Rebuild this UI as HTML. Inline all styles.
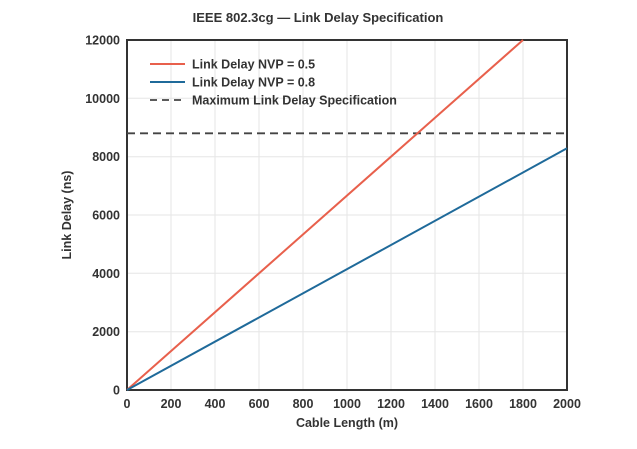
<!DOCTYPE html>
<html><head><meta charset="utf-8"><style>
body{margin:0;background:#fff;width:637px;height:444px;overflow:hidden}
text{font-family:"Liberation Sans",sans-serif;font-weight:bold;fill:#333}
</style></head><body>
<svg width="637" height="444" xmlns="http://www.w3.org/2000/svg">
<g stroke="#e6e6e6" stroke-width="1">
<line x1="171" y1="40" x2="171" y2="390"/><line x1="215" y1="40" x2="215" y2="390"/>
<line x1="259" y1="40" x2="259" y2="390"/><line x1="303" y1="40" x2="303" y2="390"/>
<line x1="347" y1="40" x2="347" y2="390"/><line x1="391" y1="40" x2="391" y2="390"/>
<line x1="435" y1="40" x2="435" y2="390"/><line x1="479" y1="40" x2="479" y2="390"/>
<line x1="523" y1="40" x2="523" y2="390"/>
<line x1="127" y1="331.7" x2="567" y2="331.7"/><line x1="127" y1="273.3" x2="567" y2="273.3"/>
<line x1="127" y1="215" x2="567" y2="215"/><line x1="127" y1="156.7" x2="567" y2="156.7"/>
<line x1="127" y1="98.3" x2="567" y2="98.3"/>
</g>
<rect x="127" y="40" width="440" height="350" fill="none" stroke="#333" stroke-width="2"/>
<line x1="127" y1="133.3" x2="567" y2="133.3" stroke="#444" stroke-width="1.8" stroke-dasharray="8,5"/>
<line x1="127" y1="390" x2="523" y2="40" stroke="#e8604c" stroke-width="2"/>
<line x1="127" y1="390" x2="567" y2="148.3" stroke="#1f6a9a" stroke-width="2"/>
<line x1="150" y1="64" x2="185" y2="64" stroke="#e8604c" stroke-width="2"/>
<line x1="150" y1="82" x2="185" y2="82" stroke="#1f6a9a" stroke-width="2"/>
<line x1="150" y1="100" x2="185" y2="100" stroke="#444" stroke-width="1.8" stroke-dasharray="7,5"/>
<g font-size="12.5">
<text x="192" y="68.5">Link Delay NVP = 0.5</text>
<text x="192" y="86.5">Link Delay NVP = 0.8</text>
<text x="192" y="104.5">Maximum Link Delay Specification</text>
</g>
<text x="318" y="22" font-size="13" text-anchor="middle">IEEE 802.3cg — Link Delay Specification</text>
<g font-size="12.5" text-anchor="end">
<text x="120" y="44.5">12000</text><text x="120" y="102.8">10000</text>
<text x="120" y="161.2">8000</text><text x="120" y="219.5">6000</text>
<text x="120" y="277.8">4000</text><text x="120" y="336.2">2000</text>
<text x="120" y="394.5">0</text>
</g>
<g font-size="12.5" text-anchor="middle">
<text x="127" y="408">0</text><text x="171" y="408">200</text><text x="215" y="408">400</text>
<text x="259" y="408">600</text><text x="303" y="408">800</text><text x="347" y="408">1000</text>
<text x="391" y="408">1200</text><text x="435" y="408">1400</text><text x="479" y="408">1600</text>
<text x="523" y="408">1800</text><text x="567" y="408">2000</text>
</g>
<text x="347" y="427" font-size="12.5" text-anchor="middle">Cable Length (m)</text>
<text transform="translate(71,215) rotate(-90)" font-size="12.5" text-anchor="middle">Link Delay (ns)</text>
</svg>
</body></html>
